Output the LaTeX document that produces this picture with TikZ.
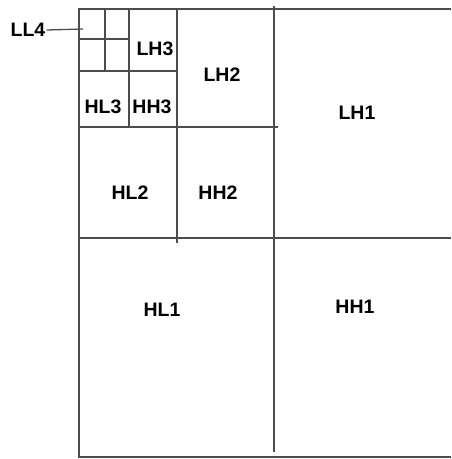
\documentclass[tikz,border=0pt]{standalone}
\usepackage{fontspec}
\setmainfont{Liberation Sans}
\begin{document}
\begin{tikzpicture}[x=1pt,y=-1pt,font=\fontsize{19.5}{19.5}\selectfont\bfseries]
\useasboundingbox (0,0) rectangle (451,459);
\def\cut#1#2{\draw[black!70,line width=1.3pt] (#1) -- (#2);}
% outer frame, open on the right
\draw[black!70,line width=1.5pt] (451,9) -- (79,9) -- (79,457) -- (451,457);
% level 1
\cut{274,6}{274,452} \cut{79,238}{451,238}
% level 2
\cut{177,9}{177,243} \cut{79,127}{278,127}
% level 3
\cut{129,9}{129,127} \cut{79,71}{177,71}
% level 4
\cut{105,9}{105,71} \cut{80,39}{130,39}
\foreach \nm/\px/\py in {LH1/357/113, HL1/162/310, HH1/355/307,
  LH2/222/75, HL2/130/193, HH2/218/193,
  LH3/155/49, HL3/103/107, HH3/152/107}
  \node (\nm) at (\px,\py) {\nm};
\node[inner sep=1pt] (LL4) at (28,30) {LL4};
\coordinate (ll4end) at (83,29);
\draw[black!70,line width=1.3pt] (LL4.east) -- (ll4end);
\end{tikzpicture}
\end{document}
